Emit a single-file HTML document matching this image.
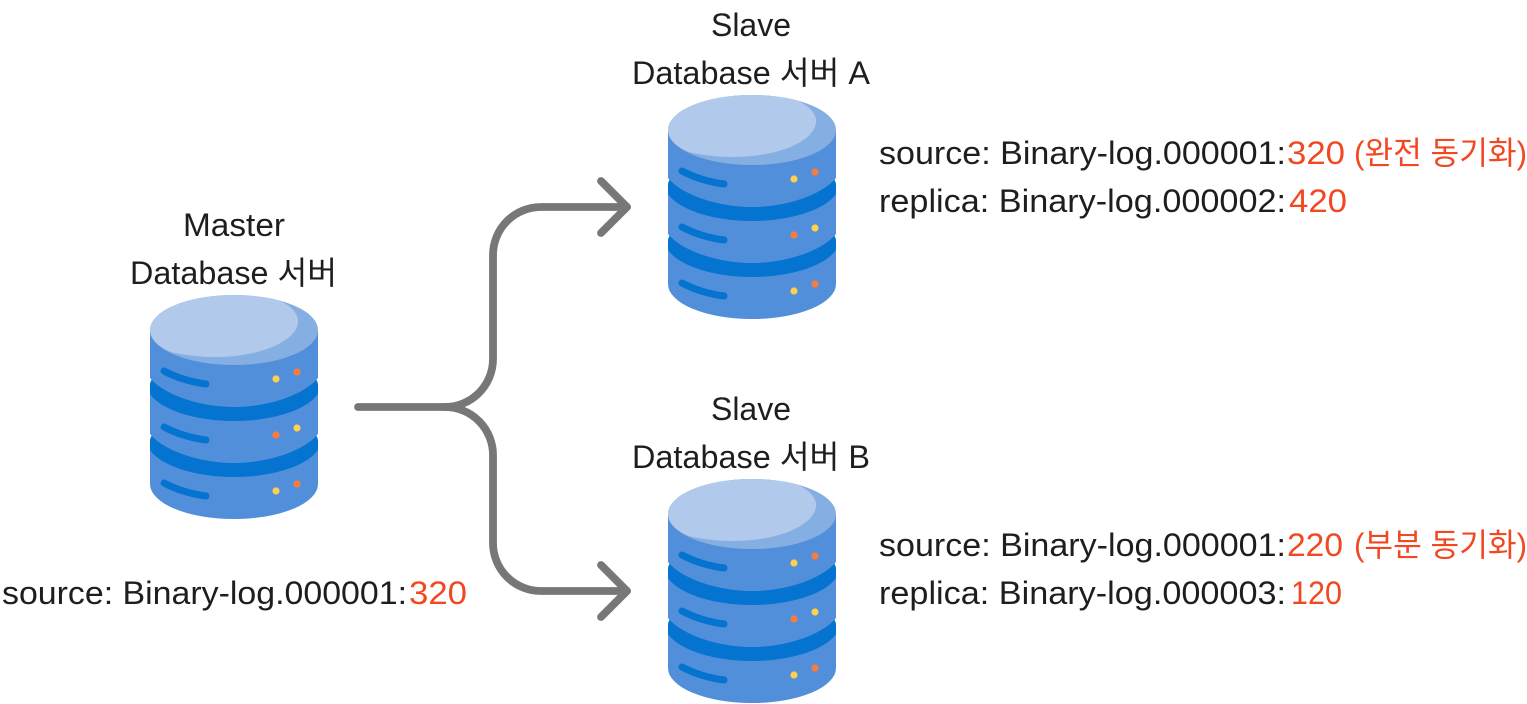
<!DOCTYPE html>
<html lang="ko">
<head>
<meta charset="utf-8">
<title>Master / Slave Database</title>
<style>
html,body{margin:0;padding:0;background:#fff;width:1527px;height:704px;overflow:hidden}
svg{display:block}
text{font-family:"Liberation Sans","Noto Sans CJK KR",sans-serif;font-size:32px;fill:#1e1e1e}
text.o{fill:#f24822}
</style>
</head>
<body>
<svg width="1527" height="704" viewBox="0 0 1527 704" xmlns="http://www.w3.org/2000/svg">
<defs>
<g id="db">
  <path d="M0 150V189A84 35 0 0 0 168 189V150Z" fill="#528fdb"/>
  <path d="M2 140Q0 143 0 146V155C12 172 48 182 84 182C120 182 156 172 168 155V146Q168 143 166 140Z" fill="#0573d0"/>
  <path d="M0 99V139C14 156 50 168 84 168C118 168 154 156 168 139V99Z" fill="#528fdb"/>
  <path d="M2 84Q0 87 0 90V99C12 116 48 126 84 126C120 126 156 116 168 99V90Q168 87 166 84Z" fill="#0573d0"/>
  <path d="M0 35V83C14 100 50 112 84 112C118 112 154 100 168 83V35Z" fill="#528fdb"/>
  <ellipse cx="84" cy="35" rx="84" ry="35" fill="#85afe3"/>
  <path d="M0 35C0 16 38 0 84 0C100 0 115 2 128 5C140 10 148 18 148 26C148 46 110 62 65 62C49 62 33 60 21 57C8 52 0 44 0 35Z" fill="#b1caec"/>
  <g fill="none" stroke="#0573d0" stroke-width="7" stroke-linecap="round">
    <path d="M14 76Q33 86 56 89"/>
    <path d="M14 132Q33 142 56 145"/>
    <path d="M14 188Q33 198 56 201"/>
  </g>
  <circle cx="126" cy="84" r="3.6" fill="#fdd04e"/>
  <circle cx="147" cy="77" r="3.6" fill="#fd7a3d"/>
  <circle cx="126" cy="140" r="3.6" fill="#fd7a3d"/>
  <circle cx="147" cy="133" r="3.6" fill="#fdd04e"/>
  <circle cx="126" cy="196" r="3.6" fill="#fdd04e"/>
  <circle cx="147" cy="189" r="3.6" fill="#fd7a3d"/>
</g>
</defs>

<use href="#db" x="150" y="295"/>
<use href="#db" x="668" y="95"/>
<use href="#db" x="668" y="479"/>

<g fill="none" stroke="#777777" stroke-width="7.8" stroke-linecap="round" stroke-linejoin="round">
  <path d="M358 407H445A48 48 0 0 0 493 359V255A48 48 0 0 1 541 207H627"/>
  <path d="M445 407A48 48 0 0 1 493 455V543A48 48 0 0 0 541 591H627"/>
  <path d="M601 181L627 207L601 233"/>
  <path d="M601 565L627 591L601 617"/>
</g>

<text x="711" y="36" textLength="80" lengthAdjust="spacingAndGlyphs">Slave</text>
<text x="632" y="84" textLength="238" lengthAdjust="spacingAndGlyphs">Database 서버 A</text>
<text x="183" y="236" textLength="102" lengthAdjust="spacingAndGlyphs">Master</text>
<text x="130" y="284" textLength="207" lengthAdjust="spacingAndGlyphs">Database 서버</text>
<text x="711" y="420" textLength="80" lengthAdjust="spacingAndGlyphs">Slave</text>
<text x="632" y="468" textLength="238" lengthAdjust="spacingAndGlyphs">Database 서버 B</text>

<text x="2" y="604" textLength="405" lengthAdjust="spacingAndGlyphs">source: Binary-log.000001:</text>
<text class="o" x="409" y="604" textLength="58" lengthAdjust="spacingAndGlyphs">320</text>

<text x="879" y="164" textLength="407" lengthAdjust="spacingAndGlyphs">source: Binary-log.000001:</text>
<text class="o" x="1287" y="164" textLength="58" lengthAdjust="spacingAndGlyphs">320</text>
<text class="o" x="1354" y="164" textLength="173" lengthAdjust="spacingAndGlyphs">(완전 동기화)</text>
<text x="879" y="212" textLength="407" lengthAdjust="spacingAndGlyphs">replica: Binary-log.000002:</text>
<text class="o" x="1289" y="212" textLength="58" lengthAdjust="spacingAndGlyphs">420</text>

<text x="879" y="556" textLength="407" lengthAdjust="spacingAndGlyphs">source: Binary-log.000001:</text>
<text class="o" x="1287" y="556" textLength="56" lengthAdjust="spacingAndGlyphs">220</text>
<text class="o" x="1354" y="556" textLength="173" lengthAdjust="spacingAndGlyphs">(부분 동기화)</text>
<text x="879" y="604" textLength="407" lengthAdjust="spacingAndGlyphs">replica: Binary-log.000003:</text>
<text class="o" x="1291" y="604" textLength="51" lengthAdjust="spacingAndGlyphs">120</text>
</svg>
</body>
</html>
